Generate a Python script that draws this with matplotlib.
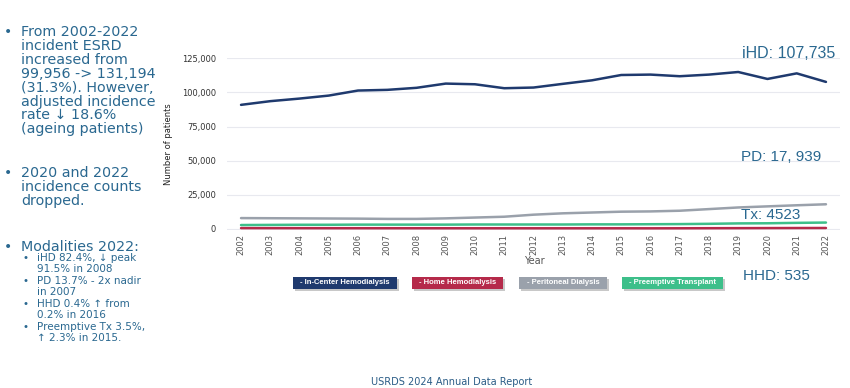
import matplotlib.pyplot as plt
from matplotlib.patches import Rectangle
from matplotlib.ticker import FuncFormatter

years = list(range(2002, 2023))
ihd = [90900, 93600, 95500, 97700, 101400, 101900, 103400, 106500, 106000, 103100,
       103600, 106300, 108900, 112800, 113100, 111900, 113100, 115000, 109900, 114000, 107735]
hhd = [450, 420, 400, 380, 370, 360, 350, 340, 330, 330,
       320, 320, 320, 320, 300, 330, 380, 420, 470, 510, 535]
pd = [7800, 7700, 7600, 7500, 7400, 7200, 7200, 7600, 8200, 8800,
      10300, 11300, 11900, 12500, 12700, 13200, 14400, 15600, 16400, 17200, 17939]
tx = [2700, 2800, 2900, 2900, 3000, 3000, 3000, 3000, 3100, 3100,
      3100, 3100, 3200, 3200, 3300, 3400, 3600, 3900, 4000, 4300, 4523]

series_names = ["In-Center Hemodialysis", "Home Hemodialysis", "Peritoneal Dialysis", "Preemptive Transplant"]
colors = ["#1f3a6e", "#b52a4a", "#9aa1ab", "#3dbf8a"]

txt_col = "#2a6890"
fam = ["DejaVu Sans"]

W, H = 850, 388
fig = plt.figure(figsize=(8.5, 3.88), dpi=100)
fig.patch.set_facecolor("white")

ax = fig.add_axes([227/W, 0.407, 613/W, 0.4443])
for vals, c in zip([ihd, hhd, pd, tx], colors):
    ax.plot(years, vals, color=c, lw=1.8, solid_capstyle="round")
ax.set_xlim(2001.52, 2022.48)
ax.set_ylim(-1000, 125500)
ax.set_yticks([0, 25000, 50000, 75000, 100000, 125000])
ax.yaxis.set_major_formatter(FuncFormatter(lambda v, p: f"{int(v):,}"))
ax.set_xticks(years)
ax.set_xticklabels([str(y) for y in years], rotation=90, fontsize=6, color="#555555")
ax.tick_params(axis="y", labelsize=6, colors="#333333", length=0, pad=8)
ax.tick_params(axis="x", length=0, pad=3)
ax.grid(axis="y", color="#e8e9ef", lw=0.8)
ax.set_axisbelow(True)
for s in ax.spines.values():
    s.set_visible(False)
ax.set_ylabel("Number of patients", fontsize=6, color="#222222", labelpad=6)
fig.text(534/W, 1 - 261/H, "Year", fontsize=7, color="#555555", ha="center", va="center")

# legend boxes (pixel extents)
boxes = [(293, 397), (412, 503), (519, 607), (622, 723)]
for name, c, (x0, x1) in zip(series_names, colors, boxes):
    fig.patches.append(Rectangle(((x0 + 2)/W, 1 - 291/H), (x1 - x0)/W, 12/H,
                                 transform=fig.transFigure, fc="#c8c8c8", ec="none", zorder=1))
    fig.patches.append(Rectangle((x0/W, 1 - 289/H), (x1 - x0)/W, 12/H,
                                 transform=fig.transFigure, fc=c, ec="none", zorder=2))
    fig.text((x0 + x1)/2/W, 1 - 283/H, "- " + name, fontsize=5.5, color="white", ha="center",
             va="center", family="Liberation Sans", fontweight="bold", zorder=3)

# annotations
ann_kw = dict(color=txt_col, family="Liberation Sans", va="center")
fig.text(742/W, 1 - 53/H, "iHD: 107,735", fontsize=11.5, **ann_kw)
fig.text(741/W, 1 - 157/H, "PD: 17, 939", fontsize=11, **ann_kw)
fig.text(741/W, 1 - 215/H, "Tx: 4523", fontsize=11, **ann_kw)
fig.text(743/W, 1 - 276/H, "HHD: 535", fontsize=11, **ann_kw)

# left text
main_lines = [
    (32, "•", "From 2002-2022"),
    (46, "", "incident ESRD"),
    (60, "", "increased from"),
    (74, "", "99,956 -> 131,194"),
    (88, "", "(31.3%). However,"),
    (102, "", "adjusted incidence"),
    (115, "", "rate \u2193 18.6%"),
    (129, "", "(ageing patients)"),
    (173, "•", "2020 and 2022"),
    (187, "", "incidence counts"),
    (201, "", "dropped."),
    (247, "•", "Modalities 2022:"),
]
for y, b, t in main_lines:
    if b:
        fig.text(4/W, 1 - y/H, b, fontsize=10, color=txt_col, va="center", family=fam)
    fig.text(21/W, 1 - y/H, t, fontsize=10.3, color=txt_col, va="center", family=fam)

sub_lines = [
    (258, "•", "iHD 82.4%, \u2193 peak"),
    (269, "", "91.5% in 2008"),
    (281, "•", "PD 13.7% - 2x nadir"),
    (292, "", "in 2007"),
    (304, "•", "HHD 0.4% \u2191 from"),
    (315, "", "0.2% in 2016"),
    (327, "•", "Preemptive Tx 3.5%,"),
    (338, "", "\u2191 2.3% in 2015."),
]
for y, b, t in sub_lines:
    if b:
        fig.text(23/W, 1 - y/H, b, fontsize=7.5, color=txt_col, va="center", family=fam)
    fig.text(37/W, 1 - y/H, t, fontsize=7.5, color=txt_col, va="center", family=fam)

fig.text(452/W, 1 - 382/H, "USRDS 2024 Annual Data Report", fontsize=7, color="#2a5c86",
         ha="center", va="center", family=fam)

plt.savefig("out.png", dpi=100)
